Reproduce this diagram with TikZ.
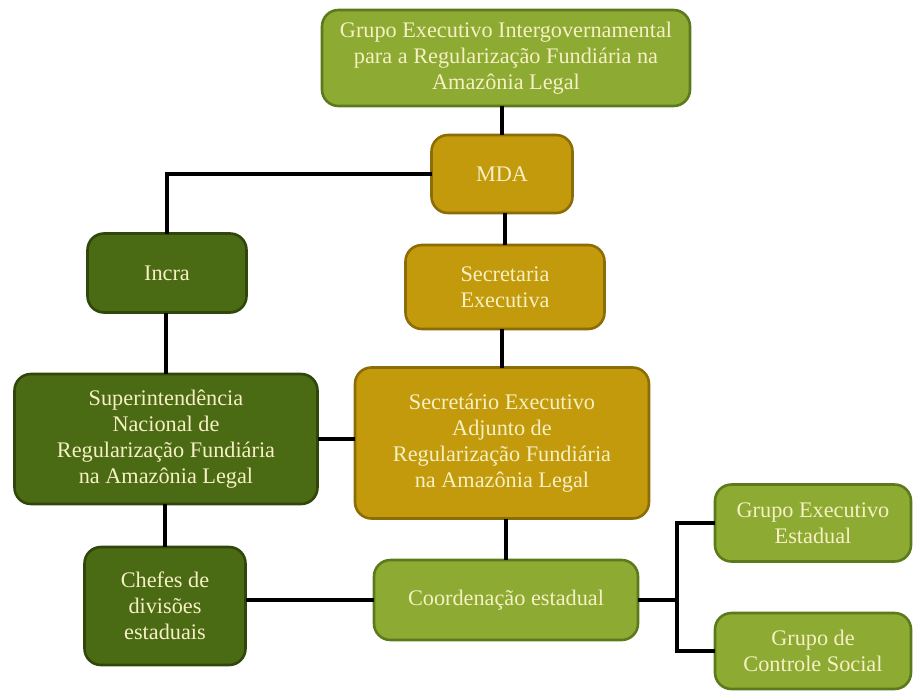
\documentclass[tikz,border=0pt]{standalone}
\usepackage{fontspec}
\setmainfont{Liberation Serif}
\usetikzlibrary{positioning, calc}
\definecolor{lightgreen}{HTML}{8DAA33}
\definecolor{lightstroke}{HTML}{5B7A1C}
\definecolor{goldfill}{HTML}{C29A0C}
\definecolor{goldstroke}{HTML}{8C6C06}
\definecolor{darkgreen}{HTML}{4B6A14}
\definecolor{darkstroke}{HTML}{2F470A}
\definecolor{creamtext}{HTML}{F6F0C4}

\begin{document}
\begin{tikzpicture}[
    x=0.03cm, y=-0.03cm,
    box/.style={
        rounded corners=14pt, line width=2.2pt, text=creamtext,
        align=center, inner sep=0pt, outer sep=0pt,
        font=\fontsize{19}{22}\selectfont
    },
    lgbox/.style={box, fill=lightgreen, draw=lightstroke},
    goldbox/.style={box, fill=goldfill, draw=goldstroke},
    dgbox/.style={box, fill=darkgreen, draw=darkstroke},
    link/.style={line width=3.2pt, color=black}
]
\useasboundingbox (0,0) rectangle (914,691);

% Top level
\node[lgbox, minimum width=11.04cm, minimum height=2.88cm] (gei) at (506, 58)
    {Grupo Executivo Intergovernamental\\para a Regularização Fundiária na\\Amazônia Legal};
\node[goldbox, minimum width=4.23cm, minimum height=2.34cm] (mda) at (502, 174) {MDA};

% Left column: Incra
\node[dgbox, minimum width=4.77cm, minimum height=2.37cm] (incra) at (167, 273) {Incra};
\node[dgbox, minimum width=9.09cm, minimum height=3.9cm] (sunreg) at (166, 439)
    {Superintendência\\Nacional de\\Regularização Fundiária\\na Amazônia Legal};
\node[dgbox, minimum width=4.83cm, minimum height=3.54cm] (chefes) at (165, 606)
    {Chefes de\\divisões\\estaduais};

% Center column: MDA
\node[goldbox, minimum width=5.97cm, minimum height=2.52cm] (secex) at (505, 287)
    {Secretaria\\Executiva};
\node[goldbox, minimum width=8.82cm, minimum height=4.53cm] (seadj) at (502, 443)
    {Secretário Executivo\\Adjunto de\\Regularização Fundiária\\na Amazônia Legal};
\node[lgbox, minimum width=7.92cm, minimum height=2.4cm] (coord) at (506, 600)
    {Coordenação estadual};

% Right column: state groups
\node[lgbox, minimum width=5.88cm, minimum height=2.31cm] (gee) at (813, 523)
    {Grupo Executivo\\Estadual};
\node[lgbox, minimum width=5.88cm, minimum height=2.28cm] (gcs) at (813, 651)
    {Grupo de\\Controle Social};
\coordinate (fork) at ([xshift=1.17cm]coord.east);

% Connectors
\draw[link] (mda.north) -- (mda.north |- gei.south);
\draw[link] (mda.west) -| (incra.north);
\draw[link] (secex.north) -- (secex.north |- mda.south);
\draw[link] (seadj.north) -- (seadj.north |- secex.south);
\draw[link] (sunreg.north) -- (sunreg.north |- incra.south);
\draw[link] (sunreg.east) -- (sunreg.east -| seadj.west);
\draw[link] (chefes.north) -- (chefes.north |- sunreg.south);
\draw[link] (coord.north) -- (coord.north |- seadj.south);
\draw[link] (chefes.east |- coord.west) -- (coord.west);
\draw[link] (coord.east) -- (fork);
\draw[link] (gee.west) -| (fork) |- (gcs.west);

\end{tikzpicture}
\end{document}
